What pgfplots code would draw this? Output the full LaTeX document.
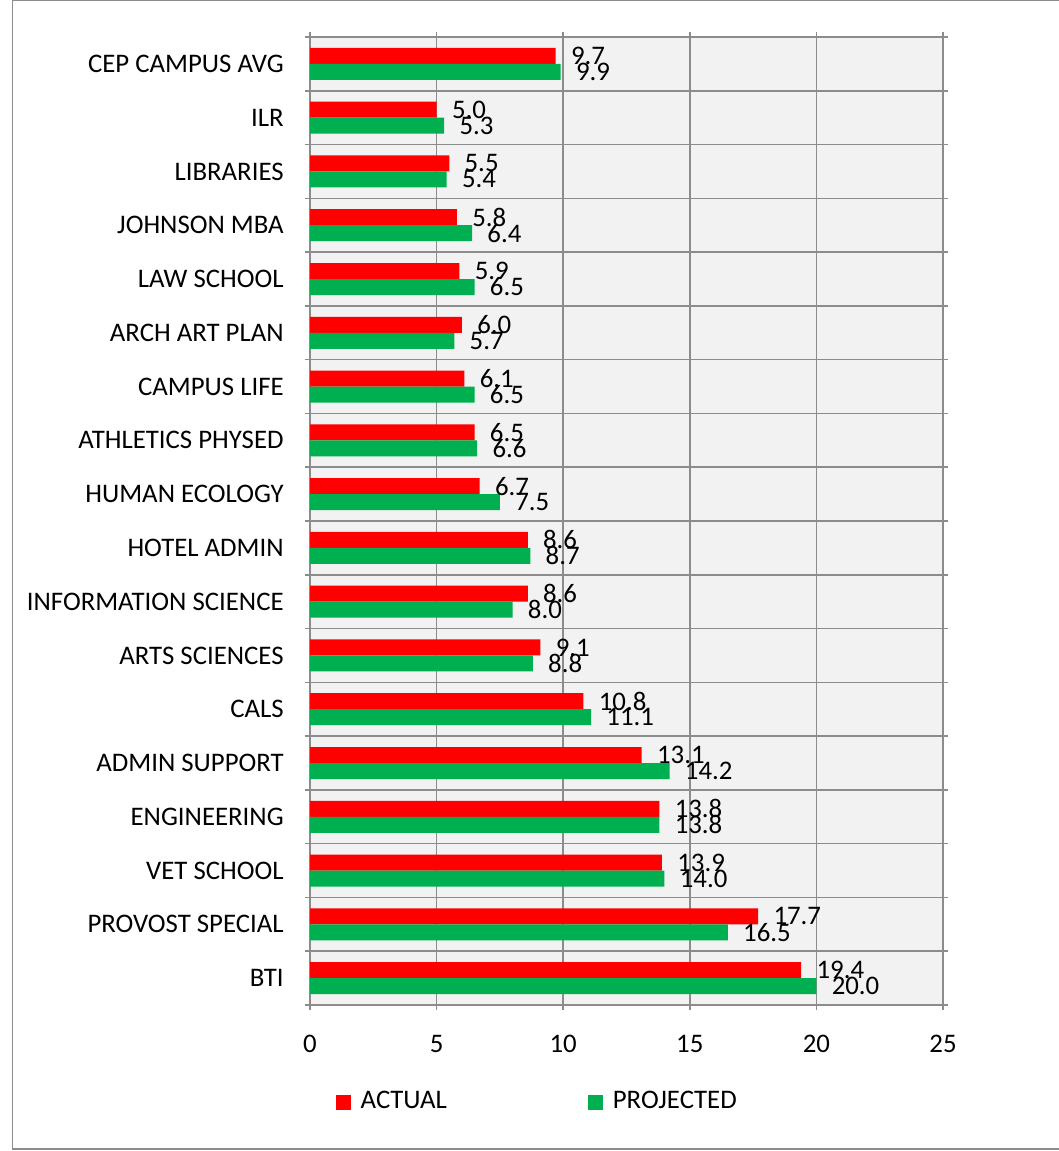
\documentclass[border=0pt]{standalone}
\usepackage{pgfplots}
\pgfplotsset{compat=1.18}
\usepackage{fontspec}
\setmainfont{Carlito}
\definecolor{actred}{HTML}{FF0000}
\definecolor{projgreen}{HTML}{00B050}
\definecolor{gridgray}{HTML}{8C8C8C}
\definecolor{plotbg}{HTML}{F2F2F2}
\begin{document}
\fontsize{13.4pt}{15pt}\selectfont
\begin{tikzpicture}
\useasboundingbox (0pt,0pt) rectangle (529.5pt,575.5pt);
\begin{scope}
\clip (0pt,0pt) rectangle (529.5pt,575.5pt);
\draw[gridgray, line width=0.8pt] (6.25pt,1pt) rectangle (560pt,575.2pt);
\end{scope}
\begin{axis}[
    at={(155pt,73pt)}, anchor=south west,
    scale only axis,
    width=316.5pt, height=484pt,
    xbar, bar width=8pt,
    xmin=0, xmax=25,
    xtick={0,5,10,15,20,25},
    ymin=-0.5, ymax=17.5,
    y dir=reverse,
    ytick={0,...,17},
    yticklabels={CEP CAMPUS AVG, ILR, LIBRARIES, JOHNSON MBA, LAW SCHOOL, ARCH ART PLAN, CAMPUS LIFE, ATHLETICS PHYSED, HUMAN ECOLOGY, HOTEL ADMIN, INFORMATION SCIENCE, ARTS SCIENCES, CALS, ADMIN SUPPORT, ENGINEERING, VET SCHOOL, PROVOST SPECIAL, BTI},
    minor ytick={-0.5,0.5,...,17.5},
    major y tick style={draw=none},
    minor y tick style={gridgray, line width=0.8pt},
    major x tick style={gridgray, line width=0.8pt},
    tick align=outside,
    major tick length=2.5pt, minor tick length=2.5pt,
    xmajorgrids, yminorgrids,
    grid style={gridgray, line width=0.8pt},
    minor grid style={gridgray, line width=0.8pt},
    axis line style={gridgray, line width=0.8pt},
    axis background/.style={fill=plotbg},
    yticklabel style={xshift=-6pt},
    xticklabel style={yshift=-8pt},
    /pgf/number format/assume math mode=true,
    nodes near coords={\pgfmathprintnumber[fixed,fixed zerofill,precision=1,assume math mode=true]{\pgfplotspointmeta}},
    nodes near coords align={horizontal},
    every node near coord/.append style={anchor=west, inner sep=0pt, xshift=7.5pt, font=\fontsize{13.4pt}{15pt}\selectfont},
    legend style={draw=none, fill=none, at={(axis description cs:0.04,0)}, anchor=west, yshift=-48.5pt, inner sep=0pt, legend columns=2,
      /tikz/every odd column/.append style={column sep=3pt},
      /tikz/every even column/.append style={column sep=68.5pt}},
    legend image code/.code={\fill[#1] (0pt,-3.75pt) rectangle (7.5pt,3.75pt);},
]
\addplot[fill=actred, draw=none, bar shift=4pt] coordinates {
(9.7,0) (5.0,1) (5.5,2) (5.8,3) (5.9,4) (6.0,5) (6.1,6) (6.5,7) (6.7,8)
(8.6,9) (8.6,10) (9.1,11) (10.8,12) (13.1,13) (13.8,14) (13.9,15) (17.7,16) (19.4,17)};
\addplot[fill=projgreen, draw=none, bar shift=-4pt] coordinates {
(9.9,0) (5.3,1) (5.4,2) (6.4,3) (6.5,4) (5.7,5) (6.5,6) (6.6,7) (7.5,8)
(8.7,9) (8.0,10) (8.8,11) (11.1,12) (14.2,13) (13.8,14) (14.0,15) (16.5,16) (20.0,17)};
\legend{ACTUAL, PROJECTED}
\end{axis}
\end{tikzpicture}
\end{document}
